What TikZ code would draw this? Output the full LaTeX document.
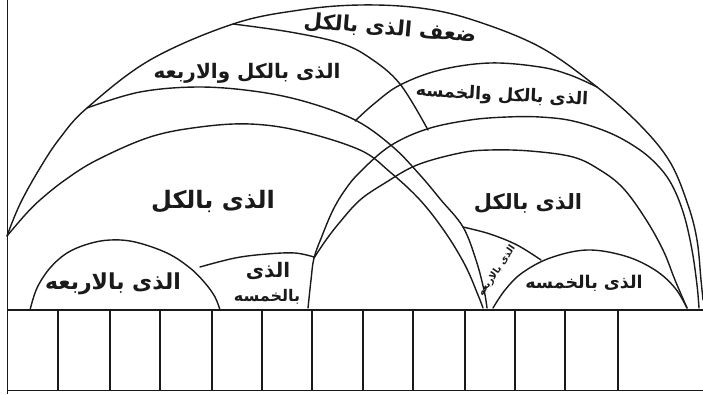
\documentclass[tikz,border=0pt]{standalone}
\usepackage{fontspec}
\newfontfamily\arabicfont[Script=Arabic]{DejaVu Sans}
\TeXXeTstate=1
\definecolor{ink}{HTML}{1A1A1A}
\newcommand\fs[1]{\arabicfont\bfseries\fontsize{#1}{#1}\selectfont}
\begin{document}
\begin{tikzpicture}[x=1pt,y=-1pt,
  arcline/.style={line width=1.4pt, draw=ink, line cap=round, line join=round},
  gridline/.style={line width=1.3pt, draw=ink},
  lab/.style={text=ink, inner sep=0pt}]
\useasboundingbox (0,0) rectangle (703,394);
\fill[white] (0,0) rectangle (703,394);

% frame and grid
\draw[gridline, line width=0.9pt] (7,0) -- (7,394);
\draw[gridline, line width=2.4pt] (7,310) -- (703,310);
\draw[gridline, line width=1pt] (7,390) -- (703,390);
\foreach \gx in {58,110,160,212,262,312,363,413,465,515,565,618}
  \draw[gridline] (\gx,310) -- (\gx,390);

% outer arc
\draw[arcline] plot[smooth, tension=0.6] coordinates {(7,236) (20,204) (40,168) (60,138) (87,108) (150,60) (233,24) (300,10) (360,5) (420,8) (473,20) (540,47) (597,87) (640,125) (670,162) (688,205) (697,240) (701,280) (703,300)};
% upper boundary of octave+fourth band
\draw[arcline] plot[smooth, tension=0.6] coordinates {(233,24) (290,32) (340,43) (370,58) (400,84) (428,130)};
% lower boundary of octave+fourth band
\draw[arcline] plot[smooth, tension=0.6] coordinates {(87,108) (140,92) (200,87) (260,92) (310,103) (357,121) (393,147) (420,175) (441,200) (463,227) (476,260) (484,290) (487,308)};
% left octave
\draw[arcline] plot[smooth, tension=0.6] coordinates {(7,236) (25,215) (40,200) (65,180) (97,160) (150,137) (200,127) (250,124) (300,131) (360,150) (390,172) (420,200) (445,232) (465,265) (478,295) (483,308)};
% upper boundary of octave+fifth band
\draw[arcline] plot[smooth, tension=0.6] coordinates {(355,121) (375,103) (400,85) (440,70) (490,63) (540,67) (570,75) (597,87)};
% lower boundary of octave+fifth band
\draw[arcline] plot[smooth, tension=0.6] coordinates {(308,308) (311,280) (314,258) (322,236) (333,210) (345,190) (360,172) (390,146) (427,129) (470,120) (507,117) (540,117) (573,121) (610,133) (640,150) (660,168) (673,187) (684,215) (692,250) (697,285) (699,308)};
% right octave
\draw[arcline] plot[smooth, tension=0.6] coordinates {(314,258) (326,240) (340,222) (360,200) (385,183) (417,165) (460,153) (490,150) (530,151) (573,157) (600,170) (623,188) (645,218) (663,250) (675,280) (687,308)};
% small fourth (left)
\draw[arcline] plot[smooth, tension=0.6] coordinates {(30,310) (37,288) (50,268) (67,253) (88,244) (110,240) (135,242) (167,253) (190,268) (205,283) (215,297) (220,310)};
% small fifth (left)
\draw[arcline] plot[smooth, tension=0.6] coordinates {(200,267) (235,258) (267,254) (295,253) (314,257)};
% small fifth (right)
\draw[arcline] plot[smooth, tension=0.6] coordinates {(493,308) (505,290) (522,273) (550,258) (587,250) (625,256) (655,270) (675,288) (687,308)};
% small fourth (right)
\draw[arcline] plot[smooth, tension=0.6] coordinates {(463,227) (490,234) (517,245) (541,260)};

% labels
\node[lab, font=\fs{21}, rotate=-5] (l1) at (390,29) {\beginR ضعف الذى بالكل\endR};
\node[lab, font=\fs{20}] (l2) at (247,73) {\beginR الذى بالكل والاربعه\endR};
\node[lab, font=\fs{17.5}, rotate=-3] (l3) at (502,96) {\beginR الذى بالكل والخمسه\endR};
\node[lab, font=\fs{24}] (l4) at (213,202) {\beginR الذى بالكل\endR};
\node[lab, font=\fs{21}] (l5) at (528,203) {\beginR الذى بالكل\endR};
\node[lab, font=\fs{22}] (l6) at (113,284) {\beginR الذى بالاربعه\endR};
\node[lab, font=\fs{20}] (l7a) at (268,271) {\beginR الذى\endR};
\node[lab, font=\fs{16}] (l7b) at (267,297) {\beginR بالخمسه\endR};
\node[lab, font=\fs{17.5}] (l8) at (584,283) {\beginR الذى بالخمسه\endR};
\node[lab, font=\fs{9.5}, rotate=56] (l9) at (497,271) {\beginR الذى بالاربعه\endR};
\end{tikzpicture}
\end{document}
